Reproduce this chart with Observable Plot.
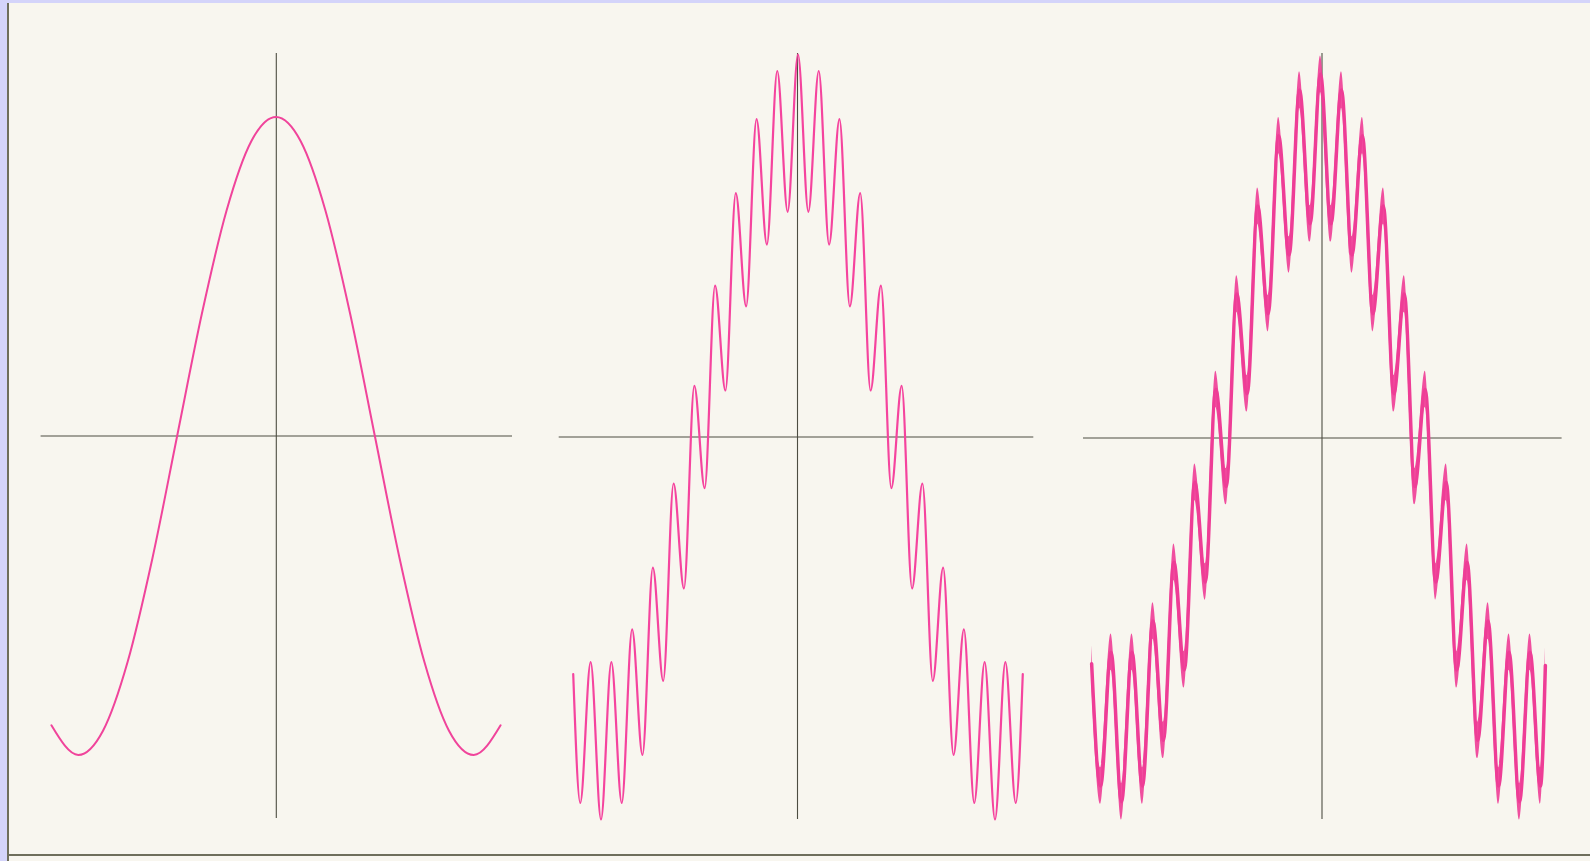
<!DOCTYPE html>
<html>
<head>
<meta charset="utf-8">
<script src="https://cdn.jsdelivr.net/npm/d3@7"></script>
<script src="https://cdn.jsdelivr.net/npm/@observablehq/plot@0.6"></script>
<style>
  html, body { margin: 0; padding: 0; }
  body { width: 1590px; height: 861px; background: #d4d4fa; overflow: hidden; font-family: "DejaVu Sans", sans-serif; }
  #paper { position: absolute; left: 7px; top: 3px; width: 1583px; height: 858px; background: #f8f6ef; border-left: 2px solid #6e6e5c; box-sizing: border-box; }
  #bottomline { position: absolute; left: 7px; top: 853.5px; width: 1583px; height: 2px; background: #6e6e5c; }
  #chart { position: absolute; left: 0; top: 0; width: 1590px; height: 861px; }
  #chart svg { position: absolute; left: 0; top: 0; }
</style>
</head>
<body>
<div id="paper"></div>
<div id="bottomline"></div>
<div id="chart"></div>
<script>
// ---- Data (x in multiples of pi, y in units of the first cosine's amplitude) ----
// Panel 1: single cosine
const panel1X = [-1.136, -1, -0.875, -0.75, -0.625, -0.5, -0.375, -0.25, -0.125, 0,
                 0.125, 0.25, 0.375, 0.5, 0.625, 0.75, 0.875, 1, 1.136];
const panel1Y = [-0.907, -1, -0.924, -0.707, -0.383, 0, 0.383, 0.707, 0.924, 1,
                 0.924, 0.707, 0.383, 0, -0.383, -0.707, -0.924, -1, -0.907];

// Panel 2: two-term sum, peaks and troughs
const panel2X = [-1.141, -1.1053, -1.0526, -1, -0.9474, -0.8947, -0.8421, -0.7895, -0.7368, -0.6842,
                 -0.6316, -0.5789, -0.5263, -0.4737, -0.4211, -0.3684, -0.3158, -0.2632, -0.2105,
                 -0.1579, -0.1053, -0.0526, 0, 0.0526, 0.1053, 0.1579, 0.2105, 0.2632, 0.3158,
                 0.3684, 0.4211, 0.4737, 0.5263, 0.5789, 0.6316, 0.6842, 0.7368, 0.7895, 0.8421,
                 0.8947, 0.9474, 1, 1.0526, 1.1053, 1.141];
const panel2Y = [-0.775, -1.196, -0.736, -1.25, -0.736, -1.196, -0.629, -1.039, -0.427, -0.797,
                 -0.152, -0.495, 0.167, -0.167, 0.495, 0.152, 0.797, 0.427, 1.039,
                 0.629, 1.196, 0.736, 1.25, 0.736, 1.196, 0.629, 1.039, 0.427, 0.797,
                 0.152, 0.495, -0.167, 0.167, -0.495, -0.152, -0.797, -0.427, -1.039, -0.629,
                 -1.196, -0.736, -1.25, -0.736, -1.196, -0.775];

// Panel 3: same visible oscillation plus a fine third-level ripple (half-height)
const panel3X = [-1.15, -1.1053, -1.0526, -1, -0.9474, -0.8947, -0.8421, -0.7895, -0.7368, -0.6842,
                 -0.6316, -0.5789, -0.5263, -0.4737, -0.4211, -0.3684, -0.3158, -0.2632, -0.2105,
                 -0.1579, -0.1053, -0.0526, 0, 0.0526, 0.1053, 0.1579, 0.2105, 0.2632, 0.3158,
                 0.3684, 0.4211, 0.4737, 0.5263, 0.5789, 0.6316, 0.6842, 0.7368, 0.7895, 0.8421,
                 0.8947, 0.9474, 1, 1.0526, 1.1053, 1.13];
const panel3Y = [-0.776, -1.196, -0.736, -1.25, -0.736, -1.196, -0.629, -1.039, -0.427, -0.797,
                 -0.152, -0.495, 0.167, -0.167, 0.495, 0.152, 0.797, 0.427, 1.039,
                 0.629, 1.196, 0.736, 1.25, 0.736, 1.196, 0.629, 1.039, 0.427, 0.797,
                 0.152, 0.495, -0.167, 0.167, -0.495, -0.152, -0.797, -0.427, -1.039, -0.629,
                 -1.196, -0.736, -1.25, -0.736, -1.196, -0.782];
const panel3Ripple = 0.0625;

// ---- Layout (pixels) ----
const W = 1590, H = 861;
const panels = [
  {xs: panel1X, ys: panel1Y, ripple: 0, cx: 275.5, piPx: 197.7, axisY: 435.5, unit: 319,
   axisX: 275.8, hx1: 40.6, hx2: 512, vy1: 53, vy2: 818, sw: 2.0, color: "#f0449b"},
  {xs: panel2X, ys: panel2Y, ripple: 0, cx: 797.5, piPx: 197, axisY: 436.5, unit: 306,
   axisX: 797, hx1: 558.7, hx2: 1033.3, vy1: 53, vy2: 819, sw: 2.2, color: "#f5449e"},
  {xs: panel3X, ys: panel3Y, ripple: panel3Ripple, cx: 1320, piPx: 199, axisY: 437.5, unit: 291,
   axisX: 1321.5, hx1: 1083, hx2: 1561.6, vy1: 53, vy2: 819, sw: 3.5, color: "#ee3d96"}
];
const axisColor = "#4d4d42";

const chart = document.getElementById("chart");
for (const p of panels) {
  const data = p.xs.map((x, i) => ({x, y: p.ys[i]}));
  const toX = px => (px - p.cx) / p.piPx;
  const toY = py => (p.axisY - py) / p.unit;
  const marks = [
    Plot.ruleY([0], {x1: toX(p.hx1), x2: toX(p.hx2), stroke: axisColor, strokeWidth: 1.1}),
    Plot.ruleX([toX(p.axisX)], {y1: toY(p.vy1), y2: toY(p.vy2), stroke: axisColor, strokeWidth: 1.1})
  ];
  if (p.ripple > 0) {
    marks.push(Plot.areaY(data, {x: "x", y1: d => d.y - p.ripple, y2: d => d.y + p.ripple,
      curve: "monotone-x", fill: p.color, fillOpacity: 0.9}));
  }
  marks.push(Plot.line(data, {x: "x", y: "y", curve: "monotone-x", stroke: p.color,
    strokeWidth: p.sw, strokeLinecap: "round", strokeLinejoin: "round"}));
  const svg = Plot.plot({
    width: W, height: H, margin: 0,
    x: {domain: [toX(0), toX(W)], axis: null},
    y: {domain: [toY(H), toY(0)], axis: null},
    style: {background: "transparent", overflow: "visible"},
    marks
  });
  chart.appendChild(svg);
}
</script>
</body>
</html>
